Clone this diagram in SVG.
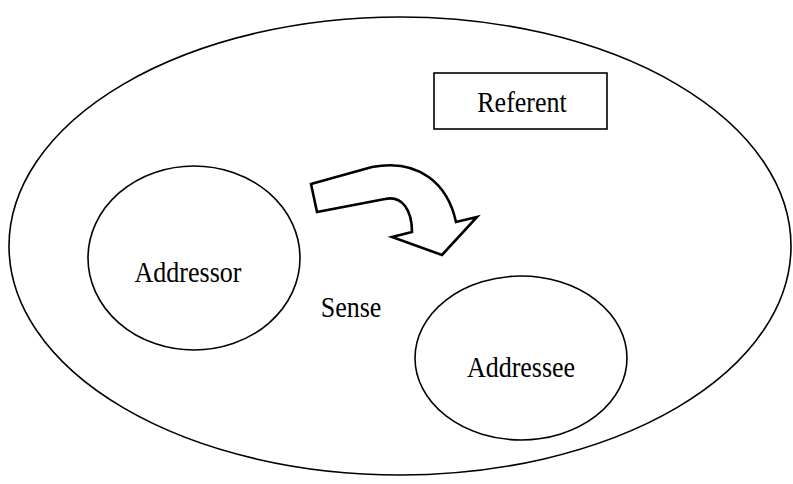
<svg xmlns="http://www.w3.org/2000/svg" width="793" height="484" viewBox="0 0 793 484">
  <style>
    .shape { fill: none; stroke: #000; stroke-width: 1.6; }
    .label { font-family: "Liberation Serif", "Times New Roman", serif; font-size: 26px; fill: #000; text-anchor: middle; }
    .flow { fill: #fff; stroke: #000; stroke-width: 2.6; stroke-linejoin: miter; }
  </style>
  <rect width="793" height="484" fill="#fff"/>

  <!-- outer context ellipse -->
  <g id="context">
    <ellipse class="shape" cx="400" cy="246" rx="391" ry="229"/>
  </g>

  <g id="referent">
    <rect class="shape" x="434" y="73" width="173" height="56" stroke-width="2"/>
    <text class="label" transform="translate(522,112) scale(1,1.15)">Referent</text>
  </g>

  <g id="addressor">
    <ellipse class="shape" cx="194" cy="258" rx="106" ry="92"/>
    <text class="label" transform="translate(188,282) scale(1,1.15)">Addressor</text>
  </g>

  <g id="sense">
    <text class="label" transform="translate(351,317) scale(1,1.15)">Sense</text>
  </g>

  <g id="addressee">
    <ellipse class="shape" cx="521" cy="358" rx="106" ry="82"/>
    <text class="label" transform="translate(521,377) scale(1,1.15)">Addressee</text>
  </g>

  <!-- block arrow from addressor toward addressee -->
  <g id="connectors">
    <path class="flow" d="M311,184 L372,167 C420,158 448,185 456,222 L477,217 L442,255 L392,237 L412,232 C412,210 402,195 385,199 L317,212 Z"/>
  </g>
</svg>
